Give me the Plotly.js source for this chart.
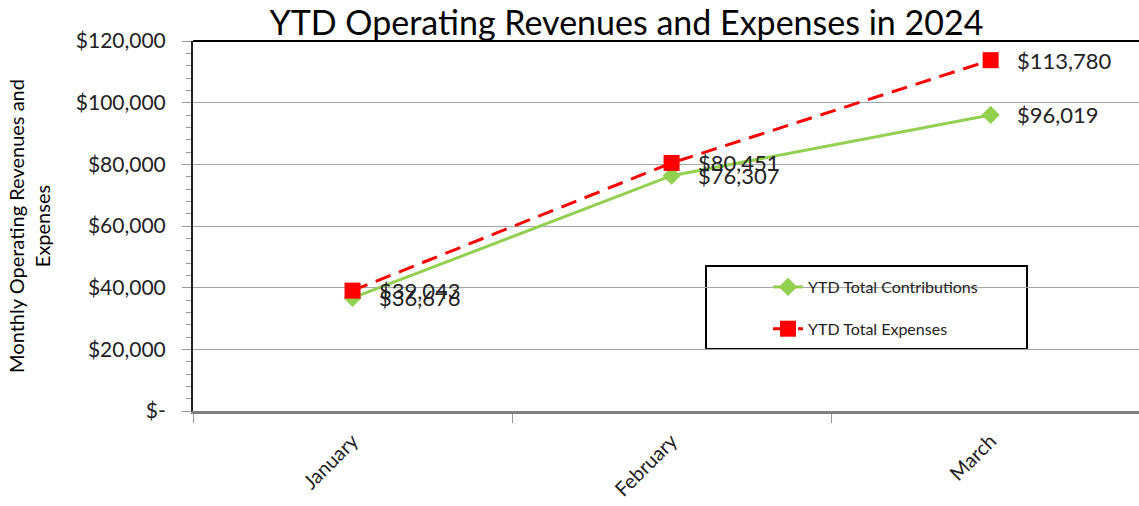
<!DOCTYPE html>
<html>
<head>
<meta charset="utf-8">
<script src="https://cdn.plot.ly/plotly-3.0.1.min.js"></script>
<style>html,body{margin:0;padding:0;background:#fff;}#chart{width:1139px;height:506px;}</style>
</head>
<body>
<div id="chart"></div>
<script>
const months = ["January", "February", "March"];
const contributions = [36676, 76307, 96019];
const expenses = [39043, 80451, 113780];
const tickValues = [0, 20000, 40000, 60000, 80000, 100000, 120000];
const tickLabels = ["$-", "$20,000", "$40,000", "$60,000", "$80,000", "$100,000", "$120,000"];
const seriesNames = ["YTD Total Contributions", "YTD Total Expenses"];

const FONT = "Lato, 'Open Sans', sans-serif";
const fmt = v => "$" + v.toLocaleString("en-US");

const traces = [
  {
    x: months, y: contributions, name: seriesNames[0], type: "scatter", mode: "lines+markers",
    line: {color: "#92D050", width: 3},
    marker: {symbol: "diamond", size: 14, color: "#92D050"},
    legendgroup: "a"
  },
  {
    x: months, y: expenses, name: seriesNames[1], type: "scatter", mode: "lines+markers",
    line: {color: "#FF0000", width: 3, dash: "16px,9px"},
    marker: {symbol: "square", size: 16, color: "#FF0000"},
    legendgroup: "b"
  }
];

const annotations = [];
[contributions, expenses].forEach(arr => {
  arr.forEach((v, i) => {
    annotations.push({
      x: months[i], y: v, xref: "x", yref: "y", text: fmt(v), showarrow: false,
      xanchor: "left", yanchor: "middle", xshift: 24,
      font: {family: FONT, size: 22, color: "#222"}
    });
  });
});

const L = 193, T = 41, B = 95, W = 1139, H = 506;
const pw = W - L, ph = H - T - B;
const px = x => (x - L) / pw;
const py = y => (H - B - y) / ph;

const layout = {
  width: W, height: H,
  margin: {l: L, r: 0, t: T, b: B, pad: 0},
  paper_bgcolor: "#fff", plot_bgcolor: "#fff",
  title: {text: "YTD Operating Revenues and Expenses in 2024", x: 0.55, xanchor: "center", y: 0.955, yanchor: "middle",
          font: {family: FONT, size: 34, color: "#000"}},
  showlegend: true,
  legend: {x: px(768), y: py(270), xanchor: "left", yanchor: "top", bgcolor: "rgba(0,0,0,0)",
           borderwidth: 0, font: {family: FONT, size: 16, color: "#222"}, tracegroupgap: 18},
  xaxis: {
    type: "category", range: [-0.5, 2.465], showgrid: false, zeroline: false,
    showline: true, linecolor: "#7f7f7f", linewidth: 2.5,
    tickson: "boundaries", ticks: "outside", ticklen: 9, tickcolor: "#999", tickwidth: 1,
    tickangle: -45, ticklabelstandoff: 8, tickfont: {family: FONT, size: 20, color: "#222"}
  },
  yaxis: {
    range: [0, 120000], tickvals: tickValues, ticktext: tickLabels,
    showgrid: true, gridcolor: "#a6a6a6", gridwidth: 1, zeroline: false,
    showline: true, linecolor: "#222", linewidth: 2,
    ticks: "outside", ticklen: 9, tickcolor: "#999", tickwidth: 1,
    ticklabelstandoff: 12,
    minor: {dtick: 4000, ticks: "outside", ticklen: 5, tickcolor: "#999", showgrid: false},
    tickfont: {family: FONT, size: 21, color: "#222"},
    title: {text: "Monthly Operating Revenues and<br>Expenses", standoff: 20, font: {family: FONT, size: 20, color: "#000"}}
  },
  shapes: [
    {type: "line", xref: "paper", yref: "paper", x0: 0, x1: 1, y0: 1, y1: 1, line: {color: "#000", width: 2}},
    {type: "rect", xref: "paper", yref: "paper", x0: px(706), x1: px(1027), y0: py(349), y1: py(266),
     line: {color: "#000", width: 2}, fillcolor: "rgba(255,255,255,1)", layer: "below"}
  ],
  annotations: annotations
};

Plotly.newPlot("chart", traces, layout, {displayModeBar: false, staticPlot: true});
</script>
</body>
</html>
